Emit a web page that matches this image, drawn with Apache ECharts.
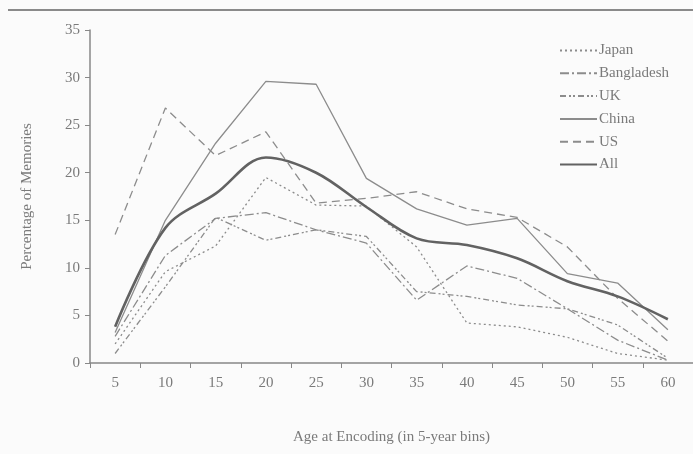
<!DOCTYPE html>
<html>
<head>
<meta charset="utf-8">
<script src="https://cdn.jsdelivr.net/npm/echarts@6/dist/echarts.min.js"></script>
<style>html,body{margin:0;padding:0;background:#fbfbfb;}#c{width:693px;height:454px;}</style>
</head>
<body>
<div id="c"></div>
<script>
var ages = ['5','10','15','20','25','30','35','40','45','50','55','60'];
var japan      = [2.0, 9.6, 12.3, 19.5, 16.6, 16.5, 12.2, 4.2, 3.8, 2.7, 1.0, 0.3];
var bangladesh = [2.8, 11.3, 15.2, 15.8, 14.0, 12.6, 6.6, 10.2, 8.9, 5.7, 2.4, 0.3];
var uk         = [1.0, 8.0, 15.3, 12.9, 14.0, 13.3, 7.5, 7.0, 6.1, 5.7, 4.0, 0.5];
var china      = [3.2, 15.0, 23.1, 29.6, 29.3, 19.4, 16.2, 14.5, 15.2, 9.4, 8.4, 3.5];
var us         = [13.5, 26.8, 21.8, 24.3, 16.8, 17.3, 18.0, 16.2, 15.3, 12.2, 6.8, 2.3];
var all        = [3.8, 14.2, 17.8, 21.6, 20.0, 16.4, 13.1, 12.4, 11.0, 8.6, 7.0, 4.6];
var yTicks = [0, 35, 5];

var gray = '#8c8c8c';
var txt = '#7a7a7a';
var font = 'Liberation Serif';
function line(name, data, type, color, width, smooth) {
  return {
    name: name, type: 'line', data: data, symbol: 'none', smooth: smooth || false,
    lineStyle: {color: color, width: width, type: type},
    itemStyle: {color: color}
  };
}
var chart = echarts.init(document.getElementById('c'), null, {renderer: 'canvas'});
chart.setOption({
  backgroundColor: '#fbfbfb',
  animation: false,
  textStyle: {fontFamily: font},
  grid: {left: 90, right: 0, top: 30, bottom: 91},
  legend: {
    orient: 'vertical', left: 554, top: 38,
    itemWidth: 37, itemHeight: 14, itemGap: 7.8,
    itemStyle: {opacity: 0, color: 'transparent', borderColor: 'transparent', borderWidth: 0},
    textStyle: {fontFamily: font, fontSize: 15, color: txt, padding: [0, 0, 0, -3]},
    data: ['Japan', 'Bangladesh', 'UK', 'China', 'US', 'All']
  },
  xAxis: {
    type: 'category', data: ages, boundaryGap: true,
    name: 'Age at Encoding (in 5-year bins)', nameLocation: 'middle', nameGap: 67,
    nameTextStyle: {fontFamily: font, fontSize: 15, color: txt},
    axisLine: {lineStyle: {color: '#888', width: 1.5}},
    axisTick: {show: true, length: 5, lineStyle: {color: '#888'}},
    axisLabel: {fontFamily: font, fontSize: 15, color: txt, margin: 13}
  },
  yAxis: {
    type: 'value', min: yTicks[0], max: yTicks[1], interval: yTicks[2],
    name: 'Percentage of Memories', nameLocation: 'middle', nameGap: 55, nameRotate: 90,
    nameTextStyle: {fontFamily: font, fontSize: 15, color: txt},
    axisLine: {show: true, lineStyle: {color: '#888', width: 1.5}},
    axisTick: {show: true, length: 5, lineStyle: {color: '#888'}},
    axisLabel: {fontFamily: font, fontSize: 15, color: txt, margin: 10},
    splitLine: {show: false}
  },
  graphic: [{
    type: 'line', shape: {x1: 8, y1: 10, x2: 693, y2: 10},
    style: {stroke: '#8a8a8a', lineWidth: 2}
  }],
  series: [
    line('Japan', japan, [2, 3], gray, 1.3),
    line('Bangladesh', bangladesh, [9, 3, 2, 3], gray, 1.3),
    line('UK', uk, [6, 3, 2, 2, 2, 3], gray, 1.3),
    line('China', china, 'solid', gray, 1.3),
    line('US', us, [8, 5], gray, 1.3),
    line('All', all, 'solid', '#626262', 2.6, 0.35)
  ]
});
</script>
</body>
</html>
